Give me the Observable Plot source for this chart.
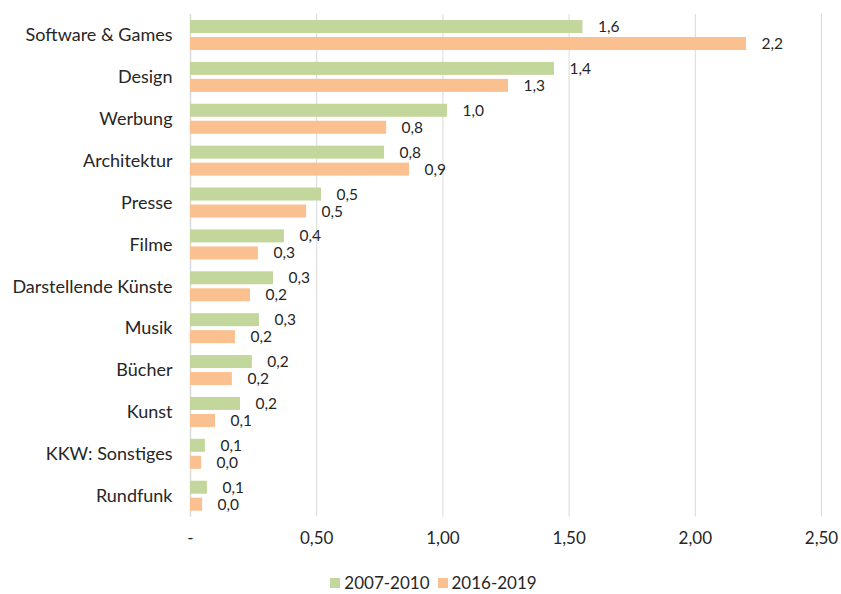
<!DOCTYPE html>
<html><head><meta charset="utf-8">
<script src="https://cdn.jsdelivr.net/npm/d3@7"></script>
<script src="https://cdn.jsdelivr.net/npm/@observablehq/plot@0.6"></script>
<style>
body{margin:0;background:#fff;font-family:Lato,"Open Sans",sans-serif;}
#chart{width:841px;}
#chart svg{display:block}
.legend{display:flex;justify-content:center;gap:8px;font-size:17px;color:#262626;margin-top:21px;padding-left:26px;line-height:20px}
.legend span{display:inline-flex;align-items:center;gap:4px}
.legend i{display:inline-block;width:10px;height:10px}
</style></head>
<body><div id="chart"></div>
<script>
const categories = ["Software & Games","Design","Werbung","Architektur","Presse","Filme","Darstellende Künste","Musik","Bücher","Kunst","KKW: Sonstiges","Rundfunk"];
const series = ["2007-2010","2016-2019"];
const values2007 = [1.555,1.442,1.018,0.769,0.519,0.372,0.329,0.273,0.245,0.198,0.059,0.067];
const values2016 = [2.203,1.26,0.777,0.868,0.46,0.269,0.238,0.178,0.166,0.099,0.044,0.048];
const xTicks = [0,0.5,1,1.5,2,2.5];
const colors = ["#C3D69B","#FAC090"];

const data = [];
categories.forEach((c,i)=>{
  data.push({cat:c, s:series[0], v:values2007[i]});
  data.push({cat:c, s:series[1], v:values2016[i]});
});
const d07 = data.filter(d=>d.s===series[0]);
const d16 = data.filter(d=>d.s===series[1]);
const fmt1 = v => v.toFixed(1).replace(".",",");
const fmtTick = v => v===0 ? "-" : v.toFixed(2).replace(".",",");

const H = 552, MT = 14, MB = H - 516.6;
const chart = Plot.plot({
  width:841, height:H,
  marginLeft:190, marginRight:20, marginTop:MT, marginBottom:MB,
  style:{fontFamily:"Lato, 'Open Sans', sans-serif", fontSize:"17px", color:"#262626"},
  x:{domain:[0,2.5], ticks:xTicks, tickFormat:fmtTick, label:null, tickSize:0, tickPadding:15},
  y:{domain:categories, padding:0, round:false, label:null, tickSize:0, tickPadding:18},
  color:{domain:series, range:colors},
  marks:[
    Plot.gridX(xTicks.slice(1), {stroke:"#d9d9d9", strokeOpacity:1}),
    Plot.ruleX([0], {stroke:"#d9d9d9", strokeWidth:1.5}),
    Plot.barX(d07, {y:"cat", x:"v", fill:"s", insetTop:6, insetBottom:22.9}),
    Plot.barX(d16, {y:"cat", x:"v", fill:"s", insetTop:23, insetBottom:5.9}),
    Plot.text(d07, {y:"cat", x:"v", text:d=>fmt1(d.v), textAnchor:"start", dx:15, dy:-8.4, fill:"#262626", fontSize:15.5}),
    Plot.text(d16, {y:"cat", x:"v", text:d=>fmt1(d.v), textAnchor:"start", dx:15, dy:8.6, fill:"#262626", fontSize:15.5})
  ]
});
chart.querySelectorAll('[aria-label="y-axis tick label"] text').forEach(t=>t.setAttribute("font-size","18"));
document.getElementById("chart").appendChild(chart);
const lg = document.createElement("div");
lg.className="legend";
series.forEach((s,i)=>{
  const sp=document.createElement("span");
  sp.innerHTML=`<i style="background:${colors[i]}"></i>${s}`;
  lg.appendChild(sp);
});
document.getElementById("chart").appendChild(lg);
</script>
</body></html>
